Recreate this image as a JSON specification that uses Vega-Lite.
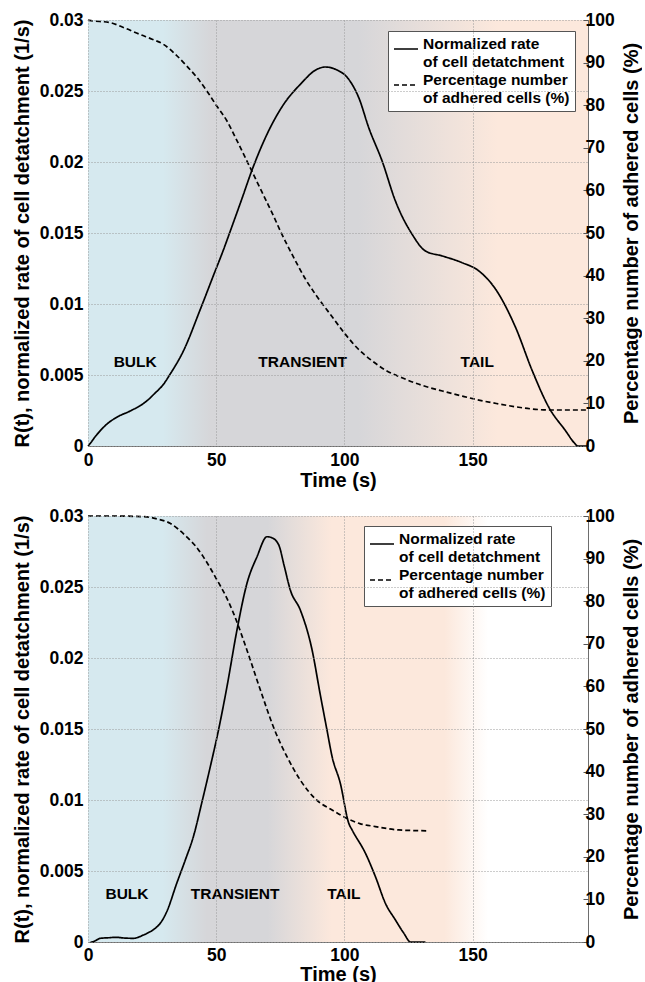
{
  "$schema": "https://vega.github.io/schema/vega-lite/v6.json",
  "background": "white",
  "padding": {"left": 11, "top": 10, "right": 0, "bottom": 0},
  "spacing": 15,
  "config": {
    "font": "Liberation Sans",
    "view": {"stroke": "#6e6e6e", "strokeWidth": 1},
    "axis": {
      "labelFont": "Liberation Sans",
      "labelFontWeight": "bold",
      "labelFontSize": 17.5,
      "labelColor": "black",
      "titleFont": "Liberation Sans",
      "titleFontWeight": "bold",
      "titleFontSize": 20,
      "titleColor": "black",
      "domain": false,
      "ticks": false,
      "labelFlush": false,
      "labelOverlap": false,
      "gridColor": "#9a9a9a",
      "gridDash": [1, 2],
      "gridWidth": 1,
      "gridOpacity": 1
    },
    "legend": {
      "labelFont": "Liberation Sans",
      "labelFontWeight": "bold",
      "labelFontSize": 15.5,
      "labelColor": "black",
      "labelLimit": 400
    }
  },
  "datasets": {
    "span": [{"t0": 0, "t1": 195}],
    "rate_top": [
      {"t": 0, "r": 0}, {"t": 0.5, "r": 0.0001}, {"t": 3, "r": 0.0007}, {"t": 7.3, "r": 0.00153},
      {"t": 12, "r": 0.0021}, {"t": 16.4, "r": 0.00246}, {"t": 22.9, "r": 0.00317}, {"t": 26, "r": 0.0037},
      {"t": 29.4, "r": 0.00434}, {"t": 32, "r": 0.00505}, {"t": 37.2, "r": 0.00669}, {"t": 43.75, "r": 0.0096},
      {"t": 48.9, "r": 0.0120}, {"t": 52.9, "r": 0.01385}, {"t": 55.5, "r": 0.01514}, {"t": 60, "r": 0.0174},
      {"t": 63.9, "r": 0.0194}, {"t": 69.8, "r": 0.02195}, {"t": 76.3, "r": 0.02406}, {"t": 82.8, "r": 0.02547},
      {"t": 89.3, "r": 0.02653}, {"t": 92.6, "r": 0.02669}, {"t": 96.5, "r": 0.02653}, {"t": 101.7, "r": 0.02582},
      {"t": 105.6, "r": 0.02453}, {"t": 109.5, "r": 0.02241}, {"t": 114.7, "r": 0.02007}, {"t": 119.9, "r": 0.01725},
      {"t": 126.4, "r": 0.01491}, {"t": 131.6, "r": 0.01373}, {"t": 138.2, "r": 0.01338}, {"t": 145.9, "r": 0.01291},
      {"t": 152.5, "r": 0.01232}, {"t": 159, "r": 0.01103}, {"t": 166.8, "r": 0.00833}, {"t": 173.3, "r": 0.00528},
      {"t": 179.8, "r": 0.0027}, {"t": 186.3, "r": 0.00106}, {"t": 189.6, "r": 0.00023}, {"t": 191, "r": 0},
      {"t": 195, "r": 0}
    ],
    "pct_top": [
      {"t": 0, "p": 100}, {"t": 0.5, "p": 99.9}, {"t": 8.6, "p": 99.4}, {"t": 14, "p": 98.2}, {"t": 20.3, "p": 96.6},
      {"t": 25, "p": 95.5}, {"t": 29.4, "p": 94.3}, {"t": 34, "p": 92}, {"t": 38.5, "p": 89.2}, {"t": 42.5, "p": 86.5},
      {"t": 46.4, "p": 83.3}, {"t": 50, "p": 80}, {"t": 54.2, "p": 76.3}, {"t": 58, "p": 71.8}, {"t": 62, "p": 66.9},
      {"t": 66, "p": 61.9}, {"t": 69.8, "p": 57.2}, {"t": 72.5, "p": 53.8}, {"t": 75, "p": 50.5}, {"t": 77.6, "p": 47.3},
      {"t": 80, "p": 44.5}, {"t": 85, "p": 39}, {"t": 88.7, "p": 35.6}, {"t": 94.5, "p": 30.9}, {"t": 100.4, "p": 26.2},
      {"t": 105, "p": 23}, {"t": 110.8, "p": 20}, {"t": 116, "p": 17.8}, {"t": 122.5, "p": 16}, {"t": 130, "p": 14.3},
      {"t": 138.2, "p": 12.9}, {"t": 146, "p": 11.7}, {"t": 153.8, "p": 10.6}, {"t": 160, "p": 9.9}, {"t": 166.8, "p": 9.2},
      {"t": 173, "p": 8.7}, {"t": 179.8, "p": 8.45}, {"t": 195, "p": 8.45}
    ],
    "phase_top": [
      {"t": 18.4, "r": 0.0059, "label": "BULK"},
      {"t": 83.7, "r": 0.0059, "label": "TRANSIENT"},
      {"t": 151.8, "r": 0.0059, "label": "TAIL"}
    ],
    "rate_bottom": [
      {"t": 1, "r": 0}, {"t": 1.4, "r": 0}, {"t": 3, "r": 0.0001}, {"t": 4.7, "r": 0.00026}, {"t": 8, "r": 0.0003},
      {"t": 11.2, "r": 0.00033}, {"t": 14, "r": 0.00028}, {"t": 17.7, "r": 0.00026}, {"t": 21.6, "r": 0.00049},
      {"t": 24, "r": 0.0007}, {"t": 26.2, "r": 0.00096}, {"t": 28.5, "r": 0.0014}, {"t": 30.7, "r": 0.00213},
      {"t": 34.6, "r": 0.00413}, {"t": 38, "r": 0.0058}, {"t": 41.1, "r": 0.00742}, {"t": 44.5, "r": 0.0099},
      {"t": 47.7, "r": 0.01235}, {"t": 50.9, "r": 0.01493}, {"t": 54.2, "r": 0.01798}, {"t": 58.1, "r": 0.02197},
      {"t": 62, "r": 0.02526}, {"t": 65.9, "r": 0.02713}, {"t": 69.8, "r": 0.02854}, {"t": 71.7, "r": 0.02847},
      {"t": 74.4, "r": 0.02796}, {"t": 76.5, "r": 0.0265}, {"t": 78.9, "r": 0.02479}, {"t": 82.8, "r": 0.02338},
      {"t": 87.4, "r": 0.02056}, {"t": 90.5, "r": 0.0175}, {"t": 93.2, "r": 0.01493}, {"t": 95.2, "r": 0.01305},
      {"t": 98.4, "r": 0.01118}, {"t": 101.7, "r": 0.00836}, {"t": 103, "r": 0.00789}, {"t": 108.2, "r": 0.00625},
      {"t": 112.1, "r": 0.0046}, {"t": 116, "r": 0.00272}, {"t": 119.9, "r": 0.00155}, {"t": 123.2, "r": 0.00061},
      {"t": 125.8, "r": 0}, {"t": 131.6, "r": 0}
    ],
    "pct_bottom": [
      {"t": 0, "p": 100}, {"t": 10, "p": 100}, {"t": 22.9, "p": 99.8}, {"t": 27, "p": 99.3}, {"t": 32, "p": 98.3},
      {"t": 35, "p": 97}, {"t": 38.5, "p": 95.1}, {"t": 42, "p": 92.9}, {"t": 45, "p": 90.4}, {"t": 50.3, "p": 85},
      {"t": 53.5, "p": 81.5}, {"t": 56.8, "p": 77.1}, {"t": 62, "p": 68.5}, {"t": 67.2, "p": 59.2}, {"t": 73.3, "p": 49},
      {"t": 77.6, "p": 43.5}, {"t": 82.8, "p": 38}, {"t": 89, "p": 33.4}, {"t": 95.2, "p": 31}, {"t": 101.7, "p": 28.8},
      {"t": 106, "p": 27.8}, {"t": 112.1, "p": 27.1}, {"t": 121.2, "p": 26.3}, {"t": 132.3, "p": 26.1}
    ],
    "phase_bottom": [
      {"t": 15.2, "r": 0.0034, "label": "BULK"},
      {"t": 57.4, "r": 0.0034, "label": "TRANSIENT"},
      {"t": 99.8, "r": 0.0034, "label": "TAIL"}
    ]
  },
  "resolve": {
    "scale": {"strokeDash": "independent"},
    "legend": {"strokeDash": "independent"}
  },
  "vconcat": [
    {
      "width": 500,
      "height": 426,
      "resolve": {"scale": {"y": "independent"}},
      "layer": [
        {
          "data": {"name": "span"},
          "mark": {
            "type": "rect",
            "fill": {
              "gradient": "linear", "x1": 0, "y1": 0, "x2": 1, "y2": 0,
              "stops": [
                {"offset": 0, "color": "#d6e9ef"},
                {"offset": 0.15, "color": "#d6e9ef"},
                {"offset": 0.245, "color": "#d6d6d9"},
                {"offset": 0.54, "color": "#d6d6d9"},
                {"offset": 0.82, "color": "#fce8dc"},
                {"offset": 1, "color": "#fce8dc"}
              ]
            }
          },
          "encoding": {
            "x": {
              "field": "t0", "type": "quantitative",
              "scale": {"domain": [0, 195], "nice": false, "zero": false},
              "axis": {"title": "Time (s)", "values": [0, 50, 100, 150], "grid": true, "zindex": 1, "labelPadding": 5, "titlePadding": 2}
            },
            "x2": {"field": "t1"}
          }
        },
        {
          "data": {"name": "rate_top"},
          "mark": {"type": "line", "color": "black", "strokeWidth": 1.7, "interpolate": "monotone"},
          "encoding": {
            "x": {"field": "t", "type": "quantitative"},
            "y": {
              "field": "r", "type": "quantitative",
              "scale": {"domain": [0, 0.03], "nice": false},
              "axis": {"orient": "left", "title": "R(t), normalized rate of cell detatchment (1/s)", "values": [0, 0.005, 0.01, 0.015, 0.02, 0.025, 0.03], "format": "~g", "grid": true, "zindex": 1, "labelPadding": 5, "titlePadding": 7}
            },
            "strokeDash": {
              "datum": "Normalized rate|of cell detatchment", "type": "nominal",
              "scale": {"domain": ["Normalized rate|of cell detatchment", "Percentage number|of adhered cells (%)"], "range": [[1, 0], [5, 3]]},
              "legend": {"title": null, "orient": "none", "legendX": 300, "legendY": 11, "labelExpr": "split(datum.label, '|')", "labelBaseline": "alphabetic", "symbolType": "stroke", "symbolSize": 576, "symbolStrokeWidth": 1.5, "symbolStrokeColor": "black", "fillColor": "white", "strokeColor": "#555", "padding": 5, "rowPadding": 2, "labelOffset": 4}
            }
          }
        },
        {
          "data": {"name": "phase_top"},
          "mark": {"type": "text", "font": "Liberation Sans", "fontWeight": "bold", "fontSize": 15.5, "color": "black", "align": "center", "baseline": "middle"},
          "encoding": {
            "x": {"field": "t", "type": "quantitative"},
            "y": {"field": "r", "type": "quantitative", "scale": {"domain": [0, 0.03], "nice": false}, "axis": null},
            "text": {"field": "label"}
          }
        },
        {
          "data": {"name": "pct_top"},
          "mark": {"type": "line", "color": "black", "strokeWidth": 1.7, "interpolate": "monotone"},
          "encoding": {
            "x": {"field": "t", "type": "quantitative"},
            "y": {
              "field": "p", "type": "quantitative",
              "scale": {"domain": [0, 100], "nice": false},
              "axis": {"orient": "right", "title": "Percentage number of adhered cells (%)", "values": [0, 10, 20, 30, 40, 50, 60, 70, 80, 90, 100], "grid": false, "ticks": true, "tickSize": -5, "tickColor": "#555", "labelPadding": 2, "titleAngle": 270, "titleBaseline": "top", "titlePadding": 7, "zindex": 1}
            },
            "strokeDash": {"datum": "Percentage number|of adhered cells (%)", "type": "nominal"}
          }
        }
      ]
    },
    {
      "width": 500,
      "height": 426,
      "resolve": {"scale": {"y": "independent"}},
      "layer": [
        {
          "data": {"name": "span"},
          "mark": {
            "type": "rect",
            "fill": {
              "gradient": "linear", "x1": 0, "y1": 0, "x2": 1, "y2": 0,
              "stops": [
                {"offset": 0, "color": "#d6e9ef"},
                {"offset": 0.149, "color": "#d6e9ef"},
                {"offset": 0.238, "color": "#d6d6d9"},
                {"offset": 0.359, "color": "#d6d6d9"},
                {"offset": 0.487, "color": "#fce8dc"},
                {"offset": 0.713, "color": "#fce8dc"},
                {"offset": 0.8, "color": "#ffffff"},
                {"offset": 1, "color": "#ffffff"}
              ]
            }
          },
          "encoding": {
            "x": {
              "field": "t0", "type": "quantitative",
              "scale": {"domain": [0, 195], "nice": false, "zero": false},
              "axis": {"title": "Time (s)", "values": [0, 50, 100, 150], "grid": true, "zindex": 1, "labelPadding": 4, "titlePadding": 1}
            },
            "x2": {"field": "t1"}
          }
        },
        {
          "data": {"name": "rate_bottom"},
          "mark": {"type": "line", "color": "black", "strokeWidth": 1.7, "interpolate": "monotone"},
          "encoding": {
            "x": {"field": "t", "type": "quantitative"},
            "y": {
              "field": "r", "type": "quantitative",
              "scale": {"domain": [0, 0.03], "nice": false},
              "axis": {"orient": "left", "title": "R(t), normalized rate of cell detatchment (1/s)", "values": [0, 0.005, 0.01, 0.015, 0.02, 0.025, 0.03], "format": "~g", "grid": true, "zindex": 1, "labelPadding": 5, "titlePadding": 7}
            },
            "strokeDash": {
              "datum": "Normalized rate|of cell detatchment", "type": "nominal",
              "scale": {"domain": ["Normalized rate|of cell detatchment", "Percentage number|of adhered cells (%)"], "range": [[1, 0], [5, 3]]},
              "legend": {"title": null, "orient": "none", "legendX": 276, "legendY": 10, "labelExpr": "split(datum.label, '|')", "labelBaseline": "alphabetic", "symbolType": "stroke", "symbolSize": 576, "symbolStrokeWidth": 1.5, "symbolStrokeColor": "black", "fillColor": "white", "strokeColor": "#555", "padding": 5, "rowPadding": 2, "labelOffset": 4}
            }
          }
        },
        {
          "data": {"name": "phase_bottom"},
          "mark": {"type": "text", "font": "Liberation Sans", "fontWeight": "bold", "fontSize": 15.5, "color": "black", "align": "center", "baseline": "middle"},
          "encoding": {
            "x": {"field": "t", "type": "quantitative"},
            "y": {"field": "r", "type": "quantitative", "scale": {"domain": [0, 0.03], "nice": false}, "axis": null},
            "text": {"field": "label"}
          }
        },
        {
          "data": {"name": "pct_bottom"},
          "mark": {"type": "line", "color": "black", "strokeWidth": 1.7, "interpolate": "monotone"},
          "encoding": {
            "x": {"field": "t", "type": "quantitative"},
            "y": {
              "field": "p", "type": "quantitative",
              "scale": {"domain": [0, 100], "nice": false},
              "axis": {"orient": "right", "title": "Percentage number of adhered cells (%)", "values": [0, 10, 20, 30, 40, 50, 60, 70, 80, 90, 100], "grid": false, "ticks": true, "tickSize": -5, "tickColor": "#555", "labelPadding": 2, "titleAngle": 270, "titleBaseline": "top", "titlePadding": 7, "zindex": 1}
            },
            "strokeDash": {"datum": "Percentage number|of adhered cells (%)", "type": "nominal"}
          }
        }
      ]
    }
  ]
}
